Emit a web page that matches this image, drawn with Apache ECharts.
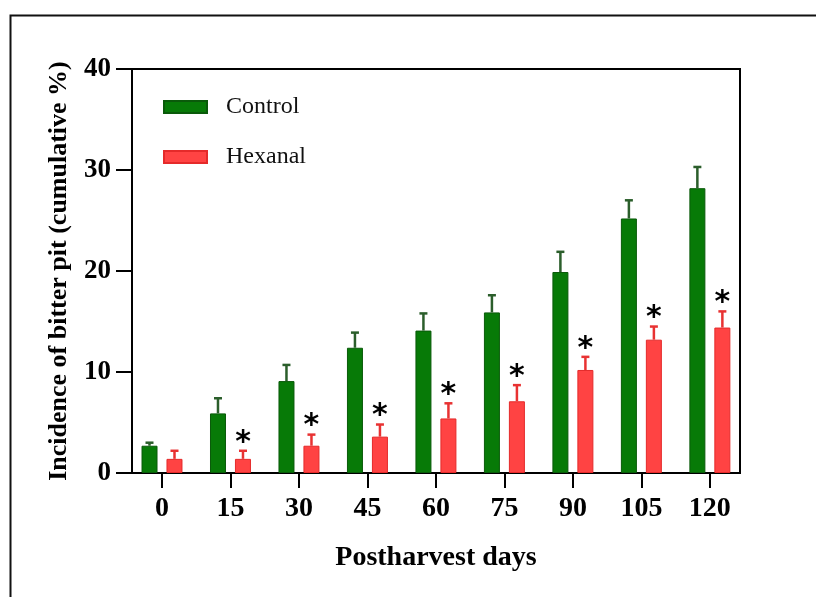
<!DOCTYPE html>
<html>
<head>
<meta charset="utf-8">
<script src="https://cdn.jsdelivr.net/npm/echarts@6/dist/echarts.min.js"></script>
<style>
html,body{margin:0;padding:0;background:#fff;}
#chart{width:816px;height:597px;}
</style>
</head>
<body>
<div id="chart"></div>
<script>
// Data
var days = [0, 15, 30, 45, 60, 75, 90, 105, 120];
var dayTicks = [0, 15, 30, 45, 60, 75, 90, 105, 120];
var controlMean = [2.7, 5.9, 9.1, 12.4, 14.1, 15.9, 19.9, 25.2, 28.2];
var controlErr  = [0.3, 1.5, 1.6, 1.5, 1.7, 1.7, 2.0, 1.8, 2.1];
var hexanalMean = [1.4, 1.4, 2.7, 3.6, 5.4, 7.1, 10.2, 13.2, 14.4];
var hexanalErr  = [0.8, 0.8, 1.1, 1.2, 1.5, 1.6, 1.3, 1.3, 1.6];
var significant = [0, 1, 1, 1, 1, 1, 1, 1, 1];
var yTicks = [0, 10, 20, 30, 40];

var serif = '"Liberation Serif", "DejaVu Serif", serif';
var greenFill = '#077a07', greenEdge = '#0a5a0a', greenErr = '#2b5e2b';
var redFill = '#ff4343', redEdge = '#e52a2a', redErr = '#e83232';
var BAR_W = 16, HALF_OFF = 12.5;

function pairs(xs, ys) { return xs.map(function (x, i) { return [x, ys[i]]; }); }
function triples(xs, ys, es, flags) {
  return xs.map(function (x, i) { return [x, ys[i], es[i], flags ? flags[i] : 0]; });
}

function errRenderer(offset, color, withStar) {
  return function (params, api) {
    var x = api.value(0), v = api.value(1), e = api.value(2), s = api.value(3);
    var base = api.coord([x, v]);
    var top = api.coord([x, v + e]);
    var cx = base[0] + offset;
    var children = [
      { type: 'line', shape: { x1: cx, y1: base[1], x2: cx, y2: top[1] },
        style: { stroke: color, lineWidth: 2.5 } },
      { type: 'line', shape: { x1: cx - 4, y1: top[1], x2: cx + 4, y2: top[1] },
        style: { stroke: color, lineWidth: 2.5 } }
    ];
    if (withStar && s) {
      children.push({ type: 'text', x: cx, y: top[1] - 8,
        style: { text: '*', fill: '#000', font: 'bold 30px "DejaVu Sans", sans-serif',
                 textAlign: 'center', textVerticalAlign: 'middle' } });
    }
    return { type: 'group', children: children };
  };
}

var chart = echarts.init(document.getElementById('chart'), null, { renderer: 'canvas' });
chart.setOption({
  backgroundColor: '#fff',
  animation: false,
  graphic: [{
    type: 'rect', left: 8, top: 13, z: -10,
    shape: { x: 0, y: 0, width: 830, height: 620 },
    style: { fill: 'none', stroke: '#111', lineWidth: 2 }
  }],
  grid: { left: 132, top: 69, width: 608, height: 404, show: true,
          borderColor: '#000', borderWidth: 2, backgroundColor: 'transparent' },
  legend: {
    orient: 'vertical', left: 158, top: 90, icon: 'rect',
    itemWidth: 43, itemHeight: 12, itemGap: 26,
    data: ['Control', 'Hexanal'],
    textStyle: { fontFamily: serif, fontSize: 24, color: '#111', padding: [0, 0, 0, 14] }
  },
  xAxis: {
    type: 'value', min: -6.57, max: 126.6,
    name: 'Postharvest days', nameLocation: 'middle', nameGap: 71,
    nameTextStyle: { fontFamily: serif, fontSize: 28, fontWeight: 'bold', color: '#000' },
    axisLine: { show: true, onZero: false, lineStyle: { color: '#000', width: 2 } },
    axisTick: { show: true, customValues: dayTicks, length: 15, lineStyle: { color: '#000', width: 2 } },
    axisLabel: { customValues: dayTicks, margin: 22, fontFamily: serif, fontSize: 28,
                 fontWeight: 'bold', color: '#000' },
    splitLine: { show: false }
  },
  yAxis: {
    type: 'value', min: 0, max: 40, interval: 10,
    name: 'Incidence of bitter pit (cumulative %)', nameLocation: 'middle', nameGap: 60,
    nameTextStyle: { fontFamily: serif, fontSize: 26, fontWeight: 'bold', color: '#000' },
    axisLine: { show: true, onZero: false, lineStyle: { color: '#000', width: 2 } },
    axisTick: { show: true, length: 16, lineStyle: { color: '#000', width: 2 } },
    axisLabel: { margin: 21, fontFamily: serif, fontSize: 27, fontWeight: 'bold', color: '#000' },
    splitLine: { show: false }
  },
  series: [
    { name: 'Control', type: 'bar', barWidth: BAR_W, barGap: '56%',
      data: pairs(days, controlMean),
      itemStyle: { color: greenFill, borderColor: greenEdge, borderWidth: 1 } },
    { name: 'Hexanal', type: 'bar', barWidth: BAR_W, barGap: '56%',
      data: pairs(days, hexanalMean),
      itemStyle: { color: redFill, borderColor: redEdge, borderWidth: 1 } },
    { name: 'ControlErr', type: 'custom', z: 3, silent: true,
      renderItem: errRenderer(-HALF_OFF, greenErr, false),
      encode: { x: 0, y: 1 },
      data: triples(days, controlMean, controlErr) },
    { name: 'HexanalErr', type: 'custom', z: 3, silent: true,
      renderItem: errRenderer(HALF_OFF, redErr, true),
      encode: { x: 0, y: 1 },
      data: triples(days, hexanalMean, hexanalErr, significant) }
  ]
});
</script>
</body>
</html>
